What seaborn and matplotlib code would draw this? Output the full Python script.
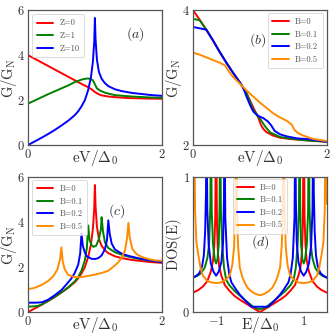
import pandas as pd
import matplotlib
matplotlib.use("Agg")
import matplotlib.pyplot as plt
import seaborn as sns

sns.set_theme(style="white")
plt.rcParams['font.family'] = ['cmr10', 'DejaVu Serif']
plt.rcParams['mathtext.fontset'] = 'cm'
plt.rcParams['axes.unicode_minus'] = False

# ---- panel (a): conductance for different barrier strengths Z ----
a_labels = ['Z=0', 'Z=1', 'Z=10']
a_z0_x = [0, 0.2, 0.4, 0.6, 0.8, 0.9, 0.95, 1.0, 1.05, 1.1, 1.2, 1.3, 1.5, 1.75, 2.0]
a_z0_y = [4.0, 3.68, 3.36, 3.04, 2.72, 2.57, 2.48, 2.36, 2.27, 2.21, 2.16, 2.13, 2.09, 2.07, 2.06]
a_z1_x = [0, 0.1, 0.2, 0.3, 0.4, 0.5, 0.6, 0.7, 0.8, 0.88, 0.93, 0.97, 1.0, 1.03, 1.08,
          1.16, 1.3, 1.46, 1.6, 1.8, 2.0]
a_z1_y = [1.84, 1.98, 2.12, 2.26, 2.39, 2.52, 2.65, 2.8, 2.91, 2.96, 2.95, 2.88, 2.7, 2.52, 2.42,
          2.32, 2.22, 2.18, 2.15, 2.12, 2.1]
# Z=10 curve (same as B=0 curve in panel c)
z10_x = [0, 0.1, 0.2, 0.3, 0.4, 0.5, 0.6, 0.7, 0.75, 0.8, 0.85, 0.9, 0.94, 0.97, 0.99, 1.0,
         1.01, 1.03, 1.06, 1.1, 1.15, 1.2, 1.3, 1.4, 1.55, 1.7, 1.85, 2.0]
z10_y = [0, 0.16, 0.32, 0.49, 0.67, 0.87, 1.08, 1.33, 1.5, 1.72, 2.0, 2.45, 3.0, 3.7, 4.6, 5.65,
         4.7, 3.8, 3.25, 2.95, 2.75, 2.62, 2.48, 2.4, 2.32, 2.27, 2.22, 2.19]

# ---- panel (b): Z=0 conductance for different fields B ----
b_labels = ['B=0', 'B=0.1', 'B=0.2', 'B=0.5']
b_b0_x = [0, 0.1, 0.2, 0.3, 0.4, 0.5, 0.6, 0.7, 0.75, 0.8, 0.9, 0.95, 0.98, 1.01, 1.05, 1.1,
          1.2, 1.3, 1.45, 1.7, 2.0]
b_b0_y = [4.0, 3.86, 3.71, 3.55, 3.38, 3.22, 3.07, 2.93, 2.85, 2.77, 2.56, 2.46, 2.4, 2.31, 2.24, 2.19,
          2.14, 2.11, 2.09, 2.07, 2.05]
b_b1_x = [0, 0.1, 0.2, 0.3, 0.4, 0.5, 0.6, 0.7, 0.75, 0.8, 0.9, 0.95, 1.01, 1.075, 1.15, 1.3,
          1.5, 1.7, 2.0]
b_b1_y = [3.87, 3.85, 3.71, 3.55, 3.38, 3.22, 3.07, 2.93, 2.85, 2.77, 2.52, 2.46, 2.38, 2.28, 2.19, 2.12,
          2.09, 2.07, 2.05]
b_b2_x = [0, 0.1, 0.2, 0.3, 0.4, 0.5, 0.6, 0.7, 0.75, 0.8, 0.85, 0.9, 0.95, 1.0, 1.05, 1.12,
          1.17, 1.22, 1.3, 1.4, 1.55, 1.7, 2.0]
b_b2_y = [3.75, 3.73, 3.71, 3.55, 3.38, 3.22, 3.07, 2.93, 2.85, 2.72, 2.6, 2.5, 2.45, 2.42, 2.4, 2.35,
          2.29, 2.21, 2.16, 2.13, 2.1, 2.09, 2.05]
b_b5_x = [0, 0.1, 0.2, 0.3, 0.4, 0.48, 0.5, 0.55, 0.6, 0.7, 0.8, 0.9, 1.0, 1.1, 1.2, 1.3, 1.4,
          1.47, 1.52, 1.58, 1.65, 1.8, 2.0]
b_b5_y = [3.37, 3.34, 3.3, 3.26, 3.22, 3.18, 3.15, 3.07, 3.01, 2.91, 2.81, 2.72, 2.63, 2.55, 2.47, 2.41, 2.36,
          2.31, 2.22, 2.17, 2.14, 2.09, 2.06]

# ---- panel (c): Z=10 conductance for different fields B ----
c_b1_x = [0, 0.05, 0.1, 0.15, 0.2, 0.3, 0.4, 0.5, 0.6, 0.7, 0.75, 0.8, 0.85, 0.88, 0.9, 0.92,
          0.95, 0.98, 1.02, 1.06, 1.09, 1.1, 1.12, 1.15, 1.2, 1.3, 1.45, 1.6, 1.8, 2.0]
c_b1_y = [0.25, 0.25, 0.26, 0.28, 0.33, 0.5, 0.68, 0.88, 1.1, 1.37, 1.55, 1.85, 2.3, 2.85, 3.85, 3.2,
          2.98, 2.9, 2.96, 3.25, 3.7, 4.22, 3.6, 3.1, 2.85, 2.66, 2.5, 2.4, 2.3, 2.22]
c_b2_x = [0, 0.1, 0.18, 0.22, 0.3, 0.4, 0.5, 0.58, 0.65, 0.7, 0.75, 0.78, 0.8, 0.82, 0.85, 0.88,
          0.95, 1.0, 1.05, 1.1, 1.15, 1.18, 1.2, 1.22, 1.25, 1.3, 1.4, 1.5, 1.7, 2.0]
c_b2_y = [0.42, 0.42, 0.43, 0.45, 0.55, 0.75, 0.98, 1.25, 1.5, 1.75, 2.1, 2.6, 3.5, 2.95, 2.65, 2.48,
          2.37, 2.36, 2.4, 2.52, 2.8, 3.2, 4.08, 3.5, 3.05, 2.78, 2.6, 2.5, 2.36, 2.22]
c_b5_x = [0, 0.1, 0.2, 0.3, 0.38, 0.44, 0.48, 0.5, 0.52, 0.55, 0.6, 0.7, 0.8, 0.9, 1.0, 1.1,
          1.2, 1.3, 1.35, 1.4, 1.45, 1.48, 1.5, 1.52, 1.56, 1.62, 1.7, 1.8, 1.9, 2.0]
c_b5_y = [1.02, 1.08, 1.2, 1.38, 1.6, 1.9, 2.35, 2.88, 2.25, 1.9, 1.66, 1.55, 1.56, 1.61, 1.67, 1.74,
          1.84, 2.08, 2.22, 2.42, 2.75, 3.3, 3.97, 3.3, 2.8, 2.58, 2.45, 2.36, 2.3, 2.28]

# ---- panel (d): density of states ----
d_b0_x = [-1.53, -1.4, -1.3, -1.2, -1.12, -1.07, -1.04, -1.02, -1.0, -0.98, -0.96, -0.93, -0.88,
          -0.8, -0.7, -0.58, -0.45, -0.35, -0.2, -0.1, 0, 0.1, 0.2, 0.35, 0.45, 0.58, 0.7, 0.8,
          0.88, 0.93, 0.96, 0.98, 1.0, 1.02, 1.04, 1.07, 1.12, 1.2, 1.3, 1.4, 1.53]
d_b0_y = [0.144, 0.165, 0.19, 0.23, 0.3, 0.38, 0.5, 0.7, 1.5, 0.65, 0.45, 0.34, 0.27,
          0.2, 0.16, 0.12, 0.09, 0.07, 0.04, 0.02, 0.0, 0.02, 0.04, 0.07, 0.09, 0.12, 0.16, 0.2,
          0.27, 0.34, 0.45, 0.65, 1.5, 0.7, 0.5, 0.38, 0.3, 0.23, 0.19, 0.165, 0.144]
d_b1_x = [-1.53, -1.42, -1.34, -1.26, -1.2, -1.16, -1.13, -1.12, -1.1, -1.07, -1.03, -1.0, -0.97,
          -0.94, -0.92, -0.91, -0.89, -0.86, -0.82, -0.77, -0.7, -0.58, -0.45, -0.27, -0.15, -0.08,
          0, 0.08, 0.15, 0.27, 0.45, 0.58, 0.7, 0.77, 0.82, 0.86, 0.89, 0.91, 0.92, 0.94, 0.97,
          1.0, 1.03, 1.07, 1.1, 1.12, 1.13, 1.16, 1.2, 1.26, 1.34, 1.42, 1.53]
d_b1_y = [0.255, 0.27, 0.29, 0.33, 0.4, 0.5, 0.8, 1.5, 0.75, 0.5, 0.39, 0.36, 0.39,
          0.5, 0.8, 1.5, 0.75, 0.5, 0.33, 0.24, 0.2, 0.157, 0.12, 0.07, 0.04, 0.028,
          0.022, 0.028, 0.04, 0.07, 0.12, 0.157, 0.2, 0.24, 0.33, 0.5, 0.75, 1.5, 0.8, 0.5, 0.39,
          0.36, 0.39, 0.5, 0.75, 1.5, 0.8, 0.5, 0.4, 0.33, 0.29, 0.27, 0.255]
d_b2_x = [-1.53, -1.45, -1.38, -1.32, -1.28, -1.25, -1.23, -1.22, -1.2, -1.17, -1.12, -1.06, -1.0,
          -0.94, -0.88, -0.84, -0.82, -0.81, -0.79, -0.75, -0.7, -0.65, -0.55, -0.46, -0.35, -0.24,
          -0.2, 0, 0.2, 0.24, 0.35, 0.46, 0.55, 0.65, 0.7, 0.75, 0.79, 0.81, 0.82, 0.84, 0.88, 0.94,
          1.0, 1.06, 1.12, 1.17, 1.2, 1.22, 1.23, 1.25, 1.28, 1.32, 1.38, 1.45, 1.53]
d_b2_y = [0.255, 0.27, 0.29, 0.34, 0.42, 0.6, 0.9, 1.5, 0.75, 0.5, 0.36, 0.3, 0.27,
          0.3, 0.37, 0.52, 0.85, 1.5, 0.7, 0.4, 0.28, 0.22, 0.17, 0.13, 0.09, 0.057,
          0.04, 0.04, 0.04, 0.057, 0.09, 0.13, 0.17, 0.22, 0.28, 0.4, 0.7, 1.5, 0.85, 0.52, 0.37, 0.3,
          0.27, 0.3, 0.36, 0.5, 0.75, 1.5, 0.9, 0.6, 0.42, 0.34, 0.29, 0.27, 0.255]
d_b5_x = [-1.53, -1.5, -1.48, -1.45, -1.41, -1.35, -1.3, -1.2, -1.1, -1.0, -0.88, -0.78, -0.69,
          -0.63, -0.59, -0.56, -0.54, -0.52, -0.5, -0.46, -0.4, -0.35, -0.28, -0.2, -0.1, 0,
          0.1, 0.2, 0.28, 0.35, 0.4, 0.46, 0.5, 0.52, 0.54, 0.56, 0.59, 0.63, 0.69, 0.78, 0.88,
          1.0, 1.1, 1.2, 1.3, 1.35, 1.41, 1.45, 1.48, 1.5, 1.53]
d_b5_y = [0.8, 1.5, 0.75, 0.52, 0.43, 0.32, 0.27, 0.23, 0.22, 0.215, 0.22, 0.24, 0.27,
          0.35, 0.48, 0.8, 1.5, 0.75, 0.5, 0.33, 0.26, 0.22, 0.18, 0.155, 0.135, 0.125,
          0.135, 0.155, 0.18, 0.22, 0.26, 0.33, 0.5, 0.75, 1.5, 0.8, 0.48, 0.35, 0.27, 0.24, 0.22,
          0.215, 0.22, 0.23, 0.27, 0.32, 0.43, 0.52, 0.75, 1.5, 0.8]

colors3 = ['#ff0000', '#008000', '#0000ff']
colors4 = ['#ff0000', '#008000', '#0000ff', '#ff8c00']


def long_frame(curves, labels):
    parts = []
    for (xs, ys), lab in zip(curves, labels):
        parts.append(pd.DataFrame({'x': xs, 'y': ys, 'curve': lab}))
    return pd.concat(parts, ignore_index=True)


df_a = long_frame([(a_z0_x, a_z0_y), (a_z1_x, a_z1_y), (z10_x, z10_y)], a_labels)
df_b = long_frame([(b_b0_x, b_b0_y), (b_b1_x, b_b1_y), (b_b2_x, b_b2_y), (b_b5_x, b_b5_y)], b_labels)
df_c = long_frame([(z10_x, z10_y), (c_b1_x, c_b1_y), (c_b2_x, c_b2_y), (c_b5_x, c_b5_y)], b_labels)
df_d = long_frame([(d_b0_x, d_b0_y), (d_b1_x, d_b1_y), (d_b2_x, d_b2_y), (d_b5_x, d_b5_y)], b_labels)

fig, axes = plt.subplots(2, 2, figsize=(3.36, 3.36), dpi=100)
fig.subplots_adjust(left=0.083, right=0.973, bottom=0.071, top=0.970, wspace=0.231, hspace=0.237)

txt_col = '#333333'
gv = r'$\mathrm{G/G_N}$'
ev = r'$\mathrm{eV}/\Delta_0$'

panels = [
    (axes[0, 0], df_a, colors3, (0, 2), (0, 6), [0, 0.5, 1, 1.5, 2], ['$0$', '', '', '', '$2$'],
     [0, 2, 4, 6], ['$0$', '$2$', '$4$', '$6$'], ev, gv, r'$(a)$', (0.8, 0.82),
     dict(loc='upper left', bbox_to_anchor=(0.02, 0.98))),
    (axes[0, 1], df_b, colors4, (0, 2), (2, 4), [0, 0.5, 1, 1.5, 2], ['$0$', '', '', '', '$2$'],
     [2, 2.5, 3, 3.5, 4], ['$2$', '', '', '', '$4$'], ev, gv, r'$(b)$', (0.485, 0.78),
     dict(loc='upper right', bbox_to_anchor=(0.98, 0.99))),
    (axes[1, 0], df_c, colors4, (0, 2), (0, 6), [0, 0.5, 1, 1.5, 2], ['$0$', '', '', '', '$2$'],
     [0, 2, 4, 6], ['$0$', '$2$', '$4$', '$6$'], ev, gv, r'$(c)$', (0.66, 0.75),
     dict(loc='upper left', bbox_to_anchor=(0.02, 0.99))),
    (axes[1, 1], df_d, colors4, (-1.53, 1.53), (0, 1), [-1, -0.5, 0, 0.5, 1],
     ['$-1$', '', '', '', '$1$'], [0, 0.5, 1], ['$0$', '', '$1$'],
     r'$\mathrm{E}/\Delta_0$', r'$\mathrm{DOS(E)}$', r'$(d)$', (0.5, 0.515),
     dict(loc='upper center', bbox_to_anchor=(0.5, 1.0))),
]

for ax, df, cols, xl, yl, xt, xtl, yt, ytl, xlab, ylab, tag, tagpos, legkw in panels:
    sns.lineplot(data=df, x='x', y='y', hue='curve', palette=cols, estimator=None,
                 sort=False, lw=1.4, ax=ax)
    ax.set_xlim(*xl)
    ax.set_ylim(*yl)
    ax.set_xticks(xt)
    ax.set_xticklabels(xtl)
    ax.set_yticks(yt)
    ax.set_yticklabels(ytl)
    ax.tick_params(direction='in', length=3.5, width=0.7, colors='#555555',
                   labelcolor=txt_col, labelsize=9, pad=2)
    for s in ax.spines.values():
        s.set_color('#555555')
        s.set_linewidth(0.9)
    ax.set_xlabel(xlab, fontsize=11, color=txt_col, labelpad=-9)
    ax.set_ylabel(ylab, fontsize=10.5, color=txt_col, labelpad=-1)
    ax.text(tagpos[0], tagpos[1], tag, transform=ax.transAxes, fontsize=10,
            color=txt_col, ha='center', va='center')
    handles, labels = ax.get_legend_handles_labels()
    leg = ax.legend(handles, labels, fontsize=6, frameon=True, fancybox=True,
                    handlelength=2.0, handletextpad=0.7, labelspacing=0.5,
                    borderpad=0.55, borderaxespad=0.2, **legkw)
    leg.get_frame().set_edgecolor('#cccccc')
    leg.get_frame().set_linewidth(0.6)
    for t in leg.get_texts():
        t.set_color('#555555')
    for ln in leg.get_lines():
        ln.set_linewidth(1.4)

fig.savefig('out.png', dpi=100)
